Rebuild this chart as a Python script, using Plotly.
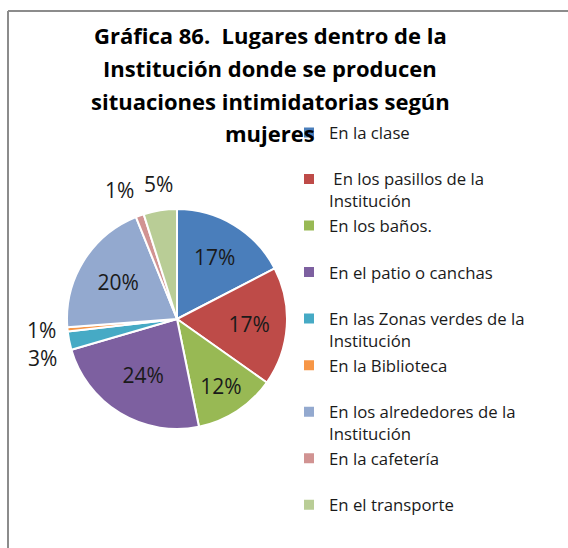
import math
import plotly.graph_objects as go

# Lugares y porcentajes (mujeres)
lugares = [
    "En la clase",
    "&nbsp;En los pasillos de la<br>Institución",
    "En los baños.",
    "En el patio o canchas",
    "En las Zonas verdes de la<br>Institución",
    "En la Biblioteca",
    "En los alrededores de la<br>Institución",
    "En la cafetería",
    "En el transporte",
]
porcentajes = [17.4, 17.4, 12.0, 23.7, 2.7, 0.6, 20.1, 1.2, 4.9]
colores = ["#4A7EBB", "#BE4B48", "#98B954", "#7D60A0", "#46AAC5",
           "#F79646", "#93A9CF", "#D19392", "#B9CD96"]
etiqueta_externa = [False, False, False, False, True, True, False, True, True]

titulo = [
    "Gráfica 86.&nbsp; Lugares dentro de la",
    "Institución donde se producen",
    "situaciones intimidatorias según",
    "mujeres",
]

W, H = 568, 548
cx, cy, r = 177, 319, 110
FONT = "Open Sans"
TXT = "#1A1A1A"

# single-line legend entries (except the last) get a blank second line
# so every slot has the same height
nombres = [l if ("<br>" in l or i == len(lugares) - 1) else l + "<br>&nbsp;"
           for i, l in enumerate(lugares)]

total = sum(porcentajes)
textos = [f"{round(v / total * 100)}%" for v in porcentajes]

fig = go.Figure(go.Pie(
    labels=nombres,
    values=porcentajes,
    sort=False,
    direction="clockwise",
    rotation=0,
    marker=dict(colors=colores, line=dict(color="white", width=2)),
    texttemplate="%{percent:.0%}",
    textposition=["none" if e else "inside" for e in etiqueta_externa],
    insidetextorientation="horizontal",
    textfont=dict(family=FONT, size=21, color=TXT),
    domain=dict(x=[(cx - r) / W, (cx + r) / W],
                y=[(H - cy - r) / H, (H - cy + r) / H]),
    hoverinfo="label+percent",
))

# small slices: labels just outside the rim, along the slice's mid-angle
externas = []
acum = 0.0
for v, t, ext in zip(porcentajes, textos, etiqueta_externa):
    mid = (acum + v / 2) / total * 2 * math.pi
    acum += v
    if not ext:
        continue
    dx, dy = math.sin(mid), -math.cos(mid)
    px, py = cx + (r + 10) * dx, cy + (r + 10) * dy
    xa = "right" if dx < -0.3 else ("left" if dx > 0.3 else "center")
    ya = "bottom" if dy < -0.3 else ("top" if dy > 0.3 else "middle")
    externas.append([px, py, xa, ya, t])

# side labels stacked top-down with a minimum vertical gap
for lado in ("left", "right"):
    grupo = sorted([e for e in externas if e[2] == lado and e[3] == "middle"],
                   key=lambda e: e[1])
    for a, b in zip(grupo, grupo[1:]):
        if b[1] - a[1] < 28:
            b[1] = a[1] + 28

annotations = [
    dict(text=t, x=px / W, y=1 - py / H, xref="paper", yref="paper",
         xanchor=xa, yanchor=ya, showarrow=False,
         font=dict(family=FONT, size=21, color=TXT))
    for px, py, xa, ya, t in externas
]

title_y = [35, 68, 101, 133]
annotations += [
    dict(text=t, x=270 / W, y=1 - yy / H, xref="paper", yref="paper",
         xanchor="center", yanchor="middle", showarrow=False,
         font=dict(family=FONT, size=22, color="#000000", weight="bold"))
    for t, yy in zip(titulo, title_y)
]

fig.update_layout(
    width=W, height=H,
    margin=dict(l=0, r=0, t=0, b=0),
    paper_bgcolor="white",
    plot_bgcolor="white",
    showlegend=True,
    legend=dict(
        x=289 / W, y=1 - 115 / H, xanchor="left", yanchor="top",
        font=dict(family=FONT, size=16.75, color=TXT),
        valign="top", bgcolor="rgba(0,0,0,0)", tracegroupgap=0,
    ),
    annotations=annotations,
    shapes=[
        dict(type="line", xref="paper", yref="paper",
             x0=8 / W, x1=1.0, y0=1 - 11 / H, y1=1 - 11 / H,
             line=dict(color="#8C8C8C", width=2)),
        dict(type="line", xref="paper", yref="paper",
             x0=8 / W, x1=8 / W, y0=0, y1=1 - 11 / H,
             line=dict(color="#8C8C8C", width=2)),
    ],
)

fig.write_html("out.html")
